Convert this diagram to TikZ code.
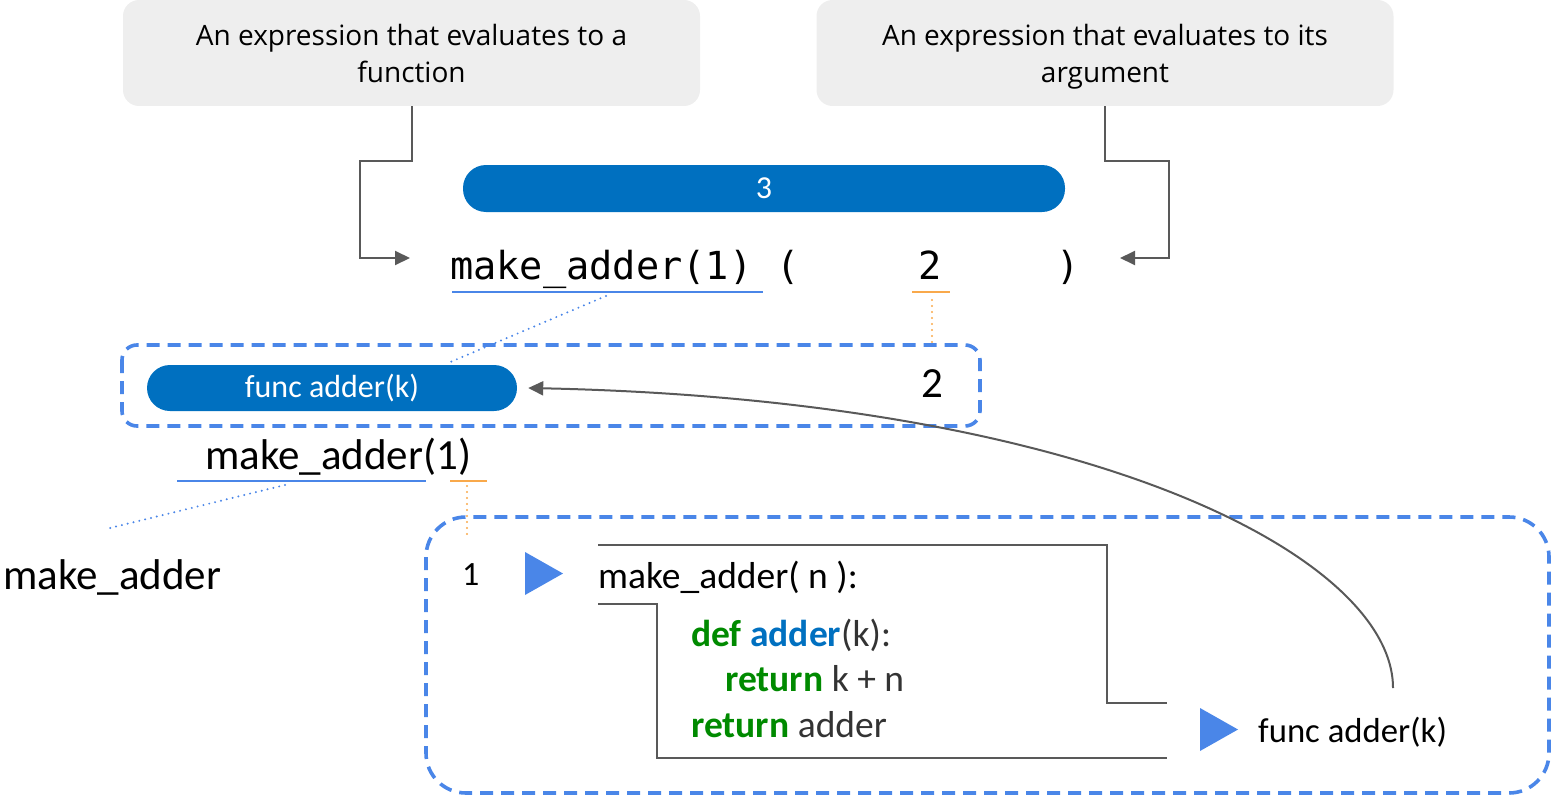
\documentclass[tikz,border=0pt]{standalone}
\usepackage{fontspec}
\setmainfont{Carlito}
\newfontfamily\notefont{Open Sans}
\setmonofont{DejaVu Sans Mono}
\usetikzlibrary{arrows.meta}

\definecolor{boxgray}{HTML}{EEEEEE}
\definecolor{linegray}{HTML}{595959}
\definecolor{pillblue}{HTML}{0070C0}
\definecolor{dashblue}{HTML}{4A86E8}
\definecolor{argorange}{HTML}{F9A94B}
\definecolor{kwgreen}{HTML}{008A00}
\definecolor{codegray}{HTML}{333333}

\begin{document}
\begin{tikzpicture}[x=1pt,y=-1pt,
  note/.style={fill=boxgray, rounded corners=16pt, minimum width=577pt,
    minimum height=106pt, inner sep=0pt},
  notetext/.style={align=center, inner sep=0pt,
    font=\notefont\fontsize{28}{37}\selectfont},
  flow/.style={draw=linegray, line width=2pt},
  tip/.style={-{Triangle[length=15pt,width=14pt]}},
  pill/.style={fill=pillblue, text=white, rounded corners=23pt, inner sep=0pt,
    font=\fontsize{32}{38}\selectfont},
  frame/.style={draw=dashblue, line width=3.6pt, dash pattern=on 13pt off 8pt},
  blueline/.style={draw=dashblue, line width=2pt},
  orangeline/.style={draw=argorange, line width=2pt},
  bluedots/.style={draw=dashblue, line width=2.2pt, dash pattern=on 0pt off 6pt, line cap=round},
  orangedots/.style={draw=argorange, line width=2.2pt, dash pattern=on 0pt off 6pt, line cap=round},
  txt/.style={inner sep=0pt, anchor=base west},
  mono/.style={txt, font=\ttfamily\fontsize{38.6}{46}\selectfont},
  big/.style={txt, font=\fontsize{43}{50}\selectfont},
  code/.style={txt, font=\fontsize{37.5}{45}\selectfont},
  play/.style={fill=dashblue}
]
\useasboundingbox (0,0) rectangle (1554,797);

% explanatory notes
\node[note] (q1) at (411.5,53) {};
\node[note] (q2) at (1105,53) {};
\node[notetext] (q1t) at ([yshift=-4pt]q1.center) {\strut An expression that evaluates to a\\\strut function};
\node[notetext] (q2t) at ([yshift=-4pt]q2.center) {\strut An expression that evaluates to its\\\strut argument};

% value of the whole call
\node[pill, minimum width=602pt, minimum height=47pt] (sum) at (764,188.5) {3};

% the call expression
\node[mono] (call) at (450,279) {make\_adder(1)};
\node[mono] (lp) at (776.5,279) {(};
\node[mono] (arg) at (918.5,279) {2};
\node[mono] (rp) at (1056.5,279) {)};

\coordinate (inL) at (410,258);
\coordinate (inR) at (1120,258);
\draw[flow,tip] (q1.south) -- ++(0,55) -| (360,258) -- (inL);
\draw[flow,tip] (q2.south) -- ++(0,55) -| (1169,258) -- (inR);

\draw[blueline] (452,292) -- (763,292);
\draw[orangeline] (912,292) -- (950,292);
\draw[bluedots] (606,296) -- (448,363);
\draw[orangedots] (932,300) -- (932,345);

% evaluated operator and operand
\draw[frame, rounded corners=15pt] (122,345) rectangle (980,426);
\node[pill, minimum width=370pt, minimum height=46pt] (fn) at (332,388) {func adder(k)};
\node[big] (two) at (921,397) {2};

% inner call
\node[big] (inner) at (205,469) {make\_adder(1)};
\draw[blueline] (177,481) -- (426,481);
\draw[orangeline] (450,481) -- (487,481);
\draw[bluedots] (285,485) -- (110,528);
\draw[orangedots] (467,486) -- (467,535);
\node[big] (name) at (3,589) {make\_adder};

% applying make_adder to 1
\draw[frame, rounded corners=40pt] (426,517) rectangle (1549,793);
\node[txt, font=\fontsize{34}{40}\selectfont] (one) at (462,585) {1};
\fill[play] (525,552) -- (563,573.5) -- (525,595) -- cycle;
\draw[flow] (598,545) -- (1107,545) -- (1107,703) -- (1167,703);
\draw[flow] (598,604) -- (657,604) -- (657,758) -- (1167,758);
\node[code] (sig) at (598,588) {make\_adder( n ):};
\node[code] (l1) at (691,646) {\textbf{\color{kwgreen}def} \textbf{\color{pillblue}adder}\textcolor{codegray}{(k):}};
\node[code] (l2) at (725,691) {\textbf{\color{kwgreen}return} \textcolor{codegray}{k + n}};
\node[code] (l3) at (691,737) {\textbf{\color{kwgreen}return} \textcolor{codegray}{adder}};
\fill[play] (1200,708) -- (1238,729.5) -- (1200,751) -- cycle;
\node[txt, font=\fontsize{34.7}{40}\selectfont] (res) at (1258,742) {func adder(k)};

% returned function flows back to the operator
\coordinate (ret) at (1393,688);
\draw[flow,tip] (ret) .. controls (1393,560) and (1100,400) .. ([xshift=11pt]fn.east);
\end{tikzpicture}
\end{document}
